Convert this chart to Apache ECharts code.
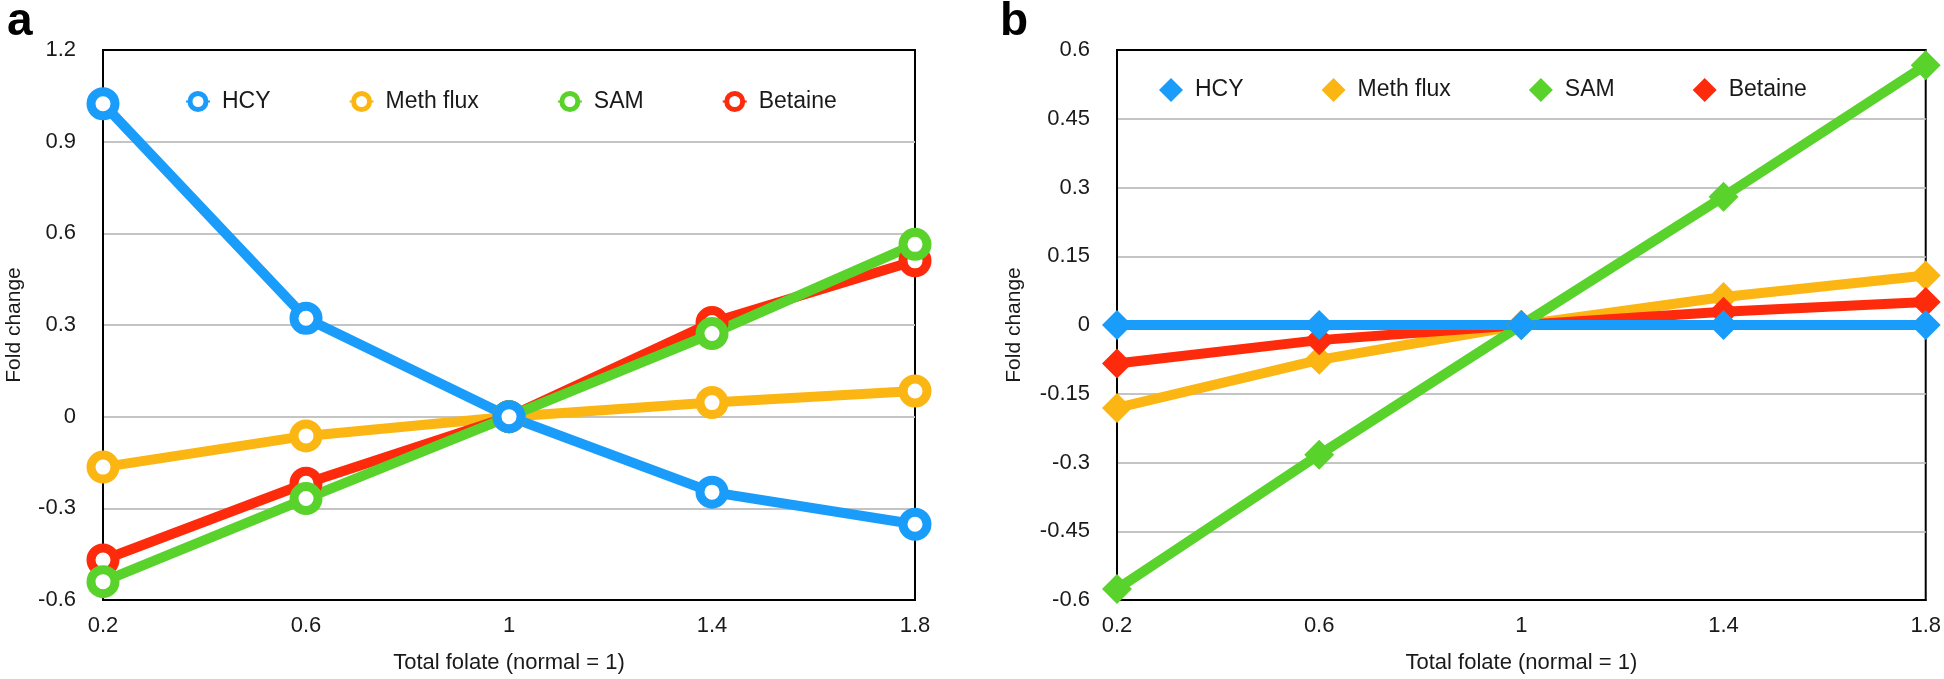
<!DOCTYPE html>
<html><head><meta charset="utf-8">
<script src="https://cdn.jsdelivr.net/npm/echarts@6/dist/echarts.min.js"></script>
<style>html,body{margin:0;padding:0;background:#fff}#c{width:1944px;height:679px}</style>
</head><body><div id="c"></div>
<script>
const xCategories = ['0.2', '0.6', '1', '1.4', '1.8'];
const seriesNames = ['HCY', 'Meth flux', 'SAM', 'Betaine'];
// Panel a
const aHCY = [1.024, 0.322, 0, -0.247, -0.352];
const aMeth = [-0.165, -0.063, 0, 0.046, 0.084];
const aSAM = [-0.540, -0.268, 0, 0.272, 0.564];
const aBetaine = [-0.469, -0.218, 0, 0.308, 0.510];
// Panel b
const bHCY = [0, 0, 0, 0, 0];
const bMeth = [-0.181, -0.076, 0, 0.061, 0.108];
const bSAM = [-0.576, -0.283, 0, 0.280, 0.567];
const bBetaine = [-0.084, -0.033, 0, 0.029, 0.050];

const colors = {'HCY': '#1a9dfa', 'Meth flux': '#fbb614', 'SAM': '#5ad22c', 'Betaine': '#fd2b0b'};
const FONT = 'Liberation Sans';
const chart = echarts.init(document.getElementById('c'), null, {renderer: 'canvas'});

function xAxis(gi) {
  return {
    type: 'category', gridIndex: gi, data: xCategories, boundaryGap: false,
    axisLine: {show: true, onZero: false, lineStyle: {color: '#000', width: 2}},
    axisTick: {show: false},
    axisLabel: {color: '#1a1a1a', fontSize: 22, fontFamily: FONT, margin: 15},
    splitLine: {show: false},
    name: 'Total folate (normal = 1)', nameLocation: 'middle', nameGap: 52,
    nameTextStyle: {color: '#1a1a1a', fontSize: 22, fontFamily: FONT}
  };
}
function yAxis(gi, min, max, interval, gap) {
  return {
    type: 'value', gridIndex: gi, min: min, max: max, interval: interval,
    axisLine: {show: true, onZero: false, lineStyle: {color: '#000', width: 2}},
    axisTick: {show: false},
    axisLabel: {color: '#1a1a1a', fontSize: 22, fontFamily: FONT, margin: 27,
      formatter: v => String(Math.round(v * 100) / 100)},
    splitLine: {show: true, showMinLine: false, showMaxLine: false, lineStyle: {color: '#c4c4c4', width: 2}},
    name: 'Fold change', nameLocation: 'middle', nameGap: gap,
    nameTextStyle: {color: '#1a1a1a', fontSize: 21, fontFamily: FONT}
  };
}
function circleSeries(name, data) {
  return {
    name: name, type: 'line', xAxisIndex: 0, yAxisIndex: 0, data: data,
    symbol: 'circle', symbolSize: 24, showSymbol: true,
    lineStyle: {color: colors[name], width: 10},
    itemStyle: {color: '#fff', borderColor: colors[name], borderWidth: 9},
    emphasis: {disabled: true}, animation: false
  };
}
function diamondSeries(name, data) {
  return {
    name: name, type: 'line', xAxisIndex: 1, yAxisIndex: 1, data: data,
    symbol: 'diamond', symbolSize: 30, showSymbol: true,
    lineStyle: {color: colors[name], width: 10},
    itemStyle: {color: colors[name]},
    emphasis: {disabled: true}, animation: false
  };
}

chart.setOption({
  animation: false,
  textStyle: {fontFamily: FONT},
  title: [
    {text: 'a', left: 2, top: -6, textStyle: {fontSize: 46, fontWeight: 'bold', color: '#000', fontFamily: FONT}},
    {text: 'b', left: 995, top: -6, textStyle: {fontSize: 46, fontWeight: 'bold', color: '#000', fontFamily: FONT}}
  ],
  grid: [
    {left: 103, top: 50, width: 812, height: 553, show: true, borderColor: '#000', borderWidth: 2, backgroundColor: 'transparent'},
    {left: 1117, top: 50, width: 812, height: 553, show: true, borderColor: '#000', borderWidth: 2, backgroundColor: 'transparent'}
  ],
  legend: [
    {data: seriesNames.map(n => ({name: n, itemStyle: {color: '#fff', borderColor: colors[n], borderWidth: 5}})),
     left: 180, top: 85, itemWidth: 24, itemHeight: 20, itemGap: 78,
     textStyle: {fontSize: 23, color: '#1a1a1a', fontFamily: FONT, padding: [0, 0, 0, 7]}},
    {data: seriesNames.map(n => ({name: n, icon: 'diamond', itemStyle: {color: colors[n], borderWidth: 0}})),
     left: 1154, top: 73, itemWidth: 24, itemHeight: 24, itemGap: 78,
     textStyle: {fontSize: 23, color: '#1a1a1a', fontFamily: FONT, padding: [0, 0, 0, 7]}}
  ],
  xAxis: [xAxis(0), xAxis(1)],
  yAxis: [yAxis(0, -0.6, 1.2, 0.3, 78), yAxis(1, -0.6, 0.6, 0.15, 92)],
  series: [
    circleSeries('Meth flux', aMeth),
    circleSeries('Betaine', aBetaine),
    circleSeries('SAM', aSAM),
    circleSeries('HCY', aHCY),
    diamondSeries('Meth flux', bMeth),
    diamondSeries('Betaine', bBetaine),
    diamondSeries('SAM', bSAM),
    diamondSeries('HCY', bHCY)
  ]
});
</script></body></html>
